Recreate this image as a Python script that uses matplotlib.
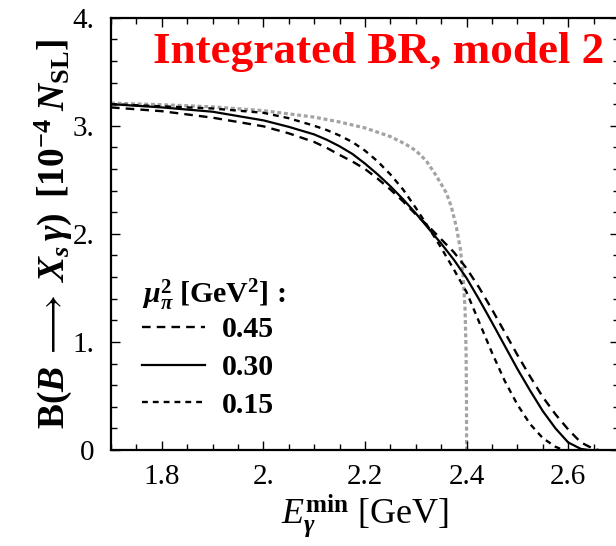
import matplotlib
matplotlib.use("Agg")
import matplotlib.pyplot as plt

plt.rcParams['font.family'] = ['Liberation Serif', 'DejaVu Serif']
plt.rcParams['mathtext.fontset'] = 'custom'
plt.rcParams['mathtext.rm'] = 'Liberation Serif'
plt.rcParams['mathtext.it'] = 'Liberation Serif:italic'
plt.rcParams['mathtext.bf'] = 'Liberation Serif:bold'
plt.rcParams['mathtext.bfit'] = 'Liberation Serif:italic:bold'
plt.rcParams['lines.scale_dashes'] = False

# ---- data ----
E_045 = [1.70, 1.80, 1.90, 2.00, 2.05, 2.10, 2.125, 2.15, 2.175, 2.20, 2.225, 2.25, 2.275, 2.30, 2.325, 2.35,
         2.375, 2.40, 2.425, 2.45, 2.475, 2.50, 2.525, 2.55, 2.575, 2.60, 2.625, 2.65, 2.66]
BR_045 = [3.17, 3.135, 3.075, 2.995, 2.93, 2.85, 2.795, 2.73, 2.67, 2.60, 2.51, 2.41, 2.30, 2.18, 2.07, 1.95,
          1.83, 1.68, 1.50, 1.30, 1.09, 0.88, 0.68, 0.49, 0.33, 0.19, 0.07, 0.01, 0.0]

E_030 = [1.70, 1.80, 1.90, 2.00, 2.05, 2.10, 2.125, 2.15, 2.175, 2.20, 2.225, 2.25, 2.275, 2.30, 2.325, 2.35,
         2.375, 2.40, 2.425, 2.45, 2.475, 2.50, 2.525, 2.55, 2.575, 2.60, 2.625, 2.64]
BR_030 = [3.20, 3.17, 3.13, 3.05, 2.99, 2.92, 2.87, 2.81, 2.74, 2.65, 2.55, 2.44, 2.32, 2.19, 2.05, 1.91,
          1.76, 1.59, 1.39, 1.18, 0.965, 0.75, 0.55, 0.36, 0.20, 0.07, 0.01, 0.0]

E_015 = [1.70, 1.80, 1.90, 2.00, 2.05, 2.10, 2.125, 2.15, 2.175, 2.20, 2.225, 2.25, 2.275, 2.30, 2.325, 2.35,
         2.375, 2.40, 2.425, 2.45, 2.475, 2.50, 2.525, 2.55, 2.575, 2.59]
BR_015 = [3.20, 3.18, 3.16, 3.12, 3.07, 3.00, 2.96, 2.91, 2.85, 2.77, 2.67, 2.55, 2.41, 2.24, 2.06, 1.87,
          1.67, 1.46, 1.18, 0.90, 0.64, 0.42, 0.24, 0.11, 0.03, 0.0]

E_gray = [1.70, 1.80, 1.90, 2.00, 2.10, 2.15, 2.20, 2.25, 2.28, 2.30, 2.32, 2.34, 2.36, 2.37, 2.38, 2.388,
          2.393, 2.397, 2.399, 2.3998, 2.40]
BR_gray = [3.21, 3.195, 3.175, 3.14, 3.08, 3.035, 2.98, 2.90, 2.83, 2.77, 2.68, 2.54, 2.38, 2.25, 2.06, 1.85,
           1.62, 1.30, 0.90, 0.45, 0.0]

mu_labels = ["0.45", "0.30", "0.15"]
xticks = [1.8, 2.0, 2.2, 2.4, 2.6]
xticklabels = ["1.8", "2.", "2.2", "2.4", "2.6"]
yticks = [0, 1, 2, 3, 4]
yticklabels = ["0", "1.", "2.", "3.", "4."]

# ---- figure ----
fig = plt.figure(figsize=(6.16, 5.46), dpi=100)
W, H = 616, 546
x0, x1, y0, y1 = 111, 619, 450, 17.7
ax = fig.add_axes([x0 / W, 1 - y0 / H, (x1 - x0) / W, (y0 - y1) / H])

ax.plot(E_gray, BR_gray, color='#a3a3a3', lw=2.3, dashes=(2.8, 2.0), zorder=1)
ax.plot(E_045, BR_045, color='black', lw=1.7, dashes=(6.2, 4.4), label=mu_labels[0], zorder=2)
ax.plot(E_030, BR_030, color='black', lw=1.6, label=mu_labels[1], zorder=2)
ax.plot(E_015, BR_015, color='black', lw=1.7, dashes=(4.2, 3.6), label=mu_labels[2], zorder=2)

ax.set_xlim(1.7, 2.7)
ax.set_ylim(0, 4)
ax.set_xticks(xticks, xticklabels)
ax.set_yticks(yticks, yticklabels)
ax.set_xticks([1.7 + 0.05 * i for i in range(21)], minor=True)
ax.set_yticks([0.2 * i for i in range(21)], minor=True)
ax.tick_params(which='both', direction='in', top=True, right=True, width=1.0)
ax.tick_params(which='major', length=6.5, labelsize=21)
ax.tick_params(which='minor', length=4.2)
ax.tick_params(axis='x', which='major', pad=10)
ax.tick_params(axis='y', which='major', pad=12)
for s in ax.spines.values():
    s.set_linewidth(1.6)

ax.set_xlabel(r'$\mathit{E}_{\mathbfit{\gamma}}^{\mathbf{min}}\ [\mathrm{GeV}]$', fontsize=26, labelpad=2)
ax.set_ylabel(r'$\mathbf{B}\mathbf{(}\mathbfit{B}\;\longrightarrow\;\mathbfit{X}_{\mathbfit{s}}\,\mathbfit{\gamma}\mathbf{)}\;\;'
              r'\mathbf{[10}^{\mathbf{-4}}\;\mathbfit{N}_{\mathbf{SL}}\mathbf{]}$',
              fontsize=27, labelpad=-1)

ax.text(0.970, 0.895, 'Integrated BR, model 2', transform=ax.transAxes, ha='right', va='baseline',
        color='#ff0000', fontsize=32.5, fontweight='bold')

leg = ax.legend(loc='upper left', bbox_to_anchor=(0.062, 0.398), frameon=False,
                title=r'$\mathbfit{\mu}_{\mathbfit{\pi}}^{\mathbf{2}}\ \mathbf{[GeV}^{\mathbf{2}}\mathbf{]}\,\mathbf{:}$',
                prop={'size': 21.5, 'weight': 'bold'}, title_fontsize=21.5,
                handlelength=2.1, handletextpad=0.55, labelspacing=0.36,
                borderpad=0, borderaxespad=0, alignment='left')
leg._legend_box.sep = 2

fig.savefig('out.png', dpi=100)
